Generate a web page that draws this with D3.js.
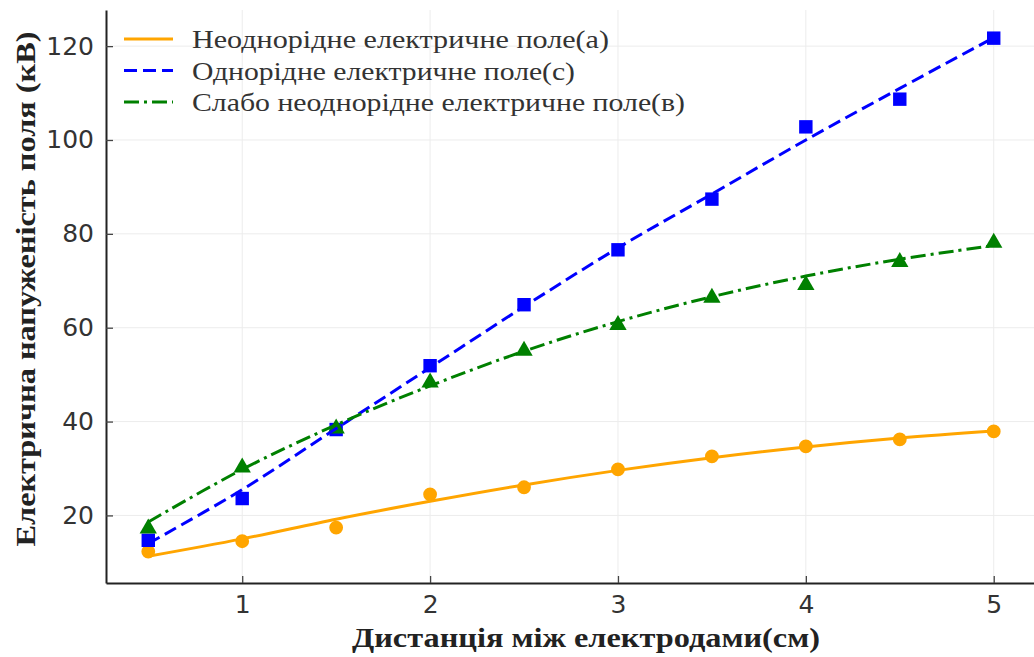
<!DOCTYPE html>
<html>
<head>
<meta charset="utf-8">
<script src="https://cdn.jsdelivr.net/npm/d3@7"></script>
<style>
  body { margin: 0; background: #fff; }
  svg { display: block; }
</style>
</head>
<body>
<div id="chart"></div>
<script>
// measured points and the smooth fit curves drawn through them
const xs = [0.5, 1, 1.5, 2, 2.5, 3, 3.5, 4, 4.5, 5];

const orangePts = [12.3, 14.5, 17.4, 24.5, 26.0, 29.8, 32.6, 34.7, 36.2, 37.9];
const bluePts = [14.7, 23.6, 38.3, 51.9, 64.9, 76.6, 87.4, 102.8, 108.7, 121.7];
const greenPts = [17.2, 30.2, 38.5, 48.3, 55.1, 60.6, 66.4, 69.1, 74.0, 78.1];

const orangeFit = [11.3, 15.0, 19.2, 23.0, 26.5, 29.6, 32.3, 34.6, 36.5, 38.0];
const blueFit = [14.0, 25.5, 38.5, 51.5, 64.5, 77.0, 88.5, 100.0, 111.0, 121.8];
const greenFit = [18.6, 29.8, 39.3, 47.6, 55.0, 61.3, 66.6, 71.0, 74.6, 77.5];

const labels = [
  'Неоднорідне електричне поле(а)',
  'Однорідне електричне поле(с)',
  'Слабо неоднорідне електричне поле(в)'
];

const xTicks = [1, 2, 3, 4, 5];
const yTicks = [20, 40, 60, 80, 100, 120];

const W = 1034, H = 657;
const svg = d3.select('#chart').append('svg')
  .attr('width', W)
  .attr('height', H);

const x = d3.scaleLinear().domain([0.275, 5.225]).range([106, 1036]);
const y = d3.scaleLinear().domain([5.6, 127.7]).range([583, 10]);

//grid
svg.append('g').selectAll('line.gx').data(xTicks).join('line')
  .attr('x1', d => x(d)).attr('x2', d => x(d))
  .attr('y1', y.range()[0]).attr('y2', y.range()[1])
  .style('stroke', '#ececec').style('stroke-width', 1);
svg.append('g').selectAll('line.gy').data(yTicks).join('line')
  .attr('x1', x.range()[0]).attr('x2', x.range()[1])
  .attr('y1', d => y(d)).attr('y2', d => y(d))
  .style('stroke', '#ececec').style('stroke-width', 1);

//axes
const xAxis = svg.append('g')
  .attr('transform', `translate(0,${y.range()[0]})`)
  .call(d3.axisBottom(x).tickValues(xTicks).tickFormat(d3.format('d')).tickSizeInner(-7).tickSizeOuter(0).tickPadding(12));
const yAxis = svg.append('g')
  .attr('transform', `translate(${x.range()[0]},0)`)
  .call(d3.axisLeft(y).tickValues(yTicks).tickSizeInner(-7).tickSizeOuter(0).tickPadding(12));

[xAxis, yAxis].forEach(a => {
  a.select('.domain').style('stroke', '#222').style('stroke-width', 2);
  a.selectAll('.tick line').style('stroke', '#444').style('stroke-width', 1.3);
  a.selectAll('.tick text')
    .style('font-family', '"DejaVu Sans", sans-serif')
    .style('font-size', '25px')
    .style('fill', '#333');
});
xAxis.selectAll('.tick text').attr('dy', '0.71em');

//lines
const series = [
  { pts: orangePts, fit: orangeFit, color: '#ffa500', dash: null, marker: 'circle' },
  { pts: bluePts, fit: blueFit, color: '#0000ff', dash: '13,6', marker: 'square' },
  { pts: greenPts, fit: greenFit, color: '#008000', dash: '15,5,3,5', marker: 'triangle' }
];

const line = d3.line()
  .x((d, i) => x(xs[i]))
  .y(d => y(d))
  .curve(d3.curveCatmullRom);

const symbols = {
  circle: d3.symbol().type(d3.symbolCircle).size(150),
  square: d3.symbol().type(d3.symbolSquare).size(180),
  triangle: d3.symbol().type(d3.symbolTriangle).size(130)
};

series.forEach(s => {
  svg.append('g').selectAll('path').data(s.pts).join('path')
    .attr('d', symbols[s.marker])
    .attr('transform', (d, i) => `translate(${x(xs[i])},${y(d)})`)
    .style('fill', s.color);
});

series.forEach(s => {
  svg.append('path')
    .datum(s.fit)
    .attr('d', line)
    .style('fill', 'none')
    .style('stroke', s.color)
    .style('stroke-width', 3)
    .style('stroke-dasharray', s.dash);
});

//legend - text widths stretched to what the picture shows
const legendWidths = [417, 383, 493];
const legend = svg.append('g');
series.forEach((s, i) => {
  const ly = 39 + i * 31.5;
  legend.append('line')
    .attr('x1', 124).attr('x2', 173)
    .attr('y1', ly).attr('y2', ly)
    .style('stroke', s.color)
    .style('stroke-width', 3)
    .style('stroke-dasharray', s.dash);
  legend.append('text')
    .attr('x', 192).attr('y', ly)
    .attr('dy', '0.35em')
    .attr('textLength', legendWidths[i])
    .attr('lengthAdjust', 'spacingAndGlyphs')
    .style('font-family', '"Liberation Serif", "Times New Roman", serif')
    .style('font-size', '26px')
    .style('fill', '#333')
    .text(labels[i]);
});

//axis labels
svg.append('text')
  .attr('x', 586).attr('y', 647)
  .attr('text-anchor', 'middle')
  .attr('textLength', 468)
  .attr('lengthAdjust', 'spacingAndGlyphs')
  .style('font-family', '"Liberation Serif", "Times New Roman", serif')
  .style('font-size', '28px')
  .style('font-weight', 'bold')
  .style('fill', '#222')
  .text('Дистанція між електродами(см)');

svg.append('text')
  .attr('transform', 'translate(35,289) rotate(-90)')
  .attr('text-anchor', 'middle')
  .attr('textLength', 515)
  .attr('lengthAdjust', 'spacingAndGlyphs')
  .style('font-family', '"Liberation Serif", "Times New Roman", serif')
  .style('font-size', '28px')
  .style('font-weight', 'bold')
  .style('fill', '#222')
  .text('Електрична напуженість поля (кВ)');
</script>
</body>
</html>
